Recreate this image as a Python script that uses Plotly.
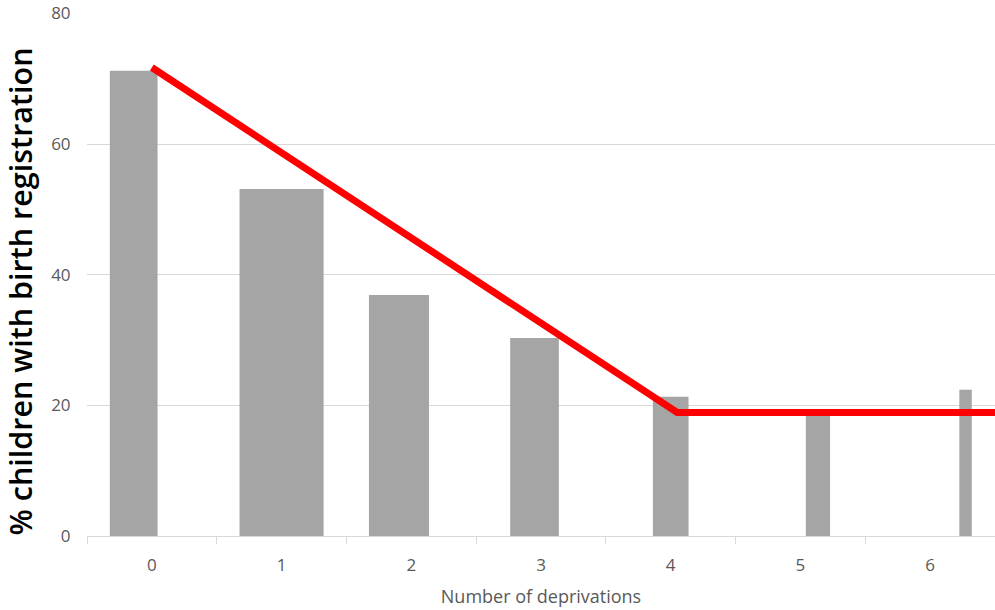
import plotly.graph_objects as go

# ---- data ----
categories = [0, 1, 2, 3, 4, 5, 6]
tick_labels = ["0", "1", "2", "3", "4", "5", "6"]
pct_registered = [71.2, 53.1, 36.9, 30.3, 21.3, 19.2, 22.4]

y_ticks = [0, 20, 40, 60, 80]

trend_x = [0.0, 4.05, 6.5]
trend_y = [71.7, 18.9, 18.9]

# ---- bar placement (style: offset within category slot and width) ----
bar_offsets = [-0.14, 0.0, -0.095, -0.05, 0.0, 0.135, 0.273]
bar_widths = [0.368, 0.648, 0.463, 0.375, 0.275, 0.187, 0.096]

bar_x = [c + o for c, o in zip(categories, bar_offsets)]

GRID = "#d9d9d9"
TXT = "#595959"

W, H = 995, 610
ML, MR, MT, MB = 87, 0, 13, 74
plot_w = W - ML - MR
plot_h = H - MT - MB

fig = go.Figure()
fig.add_trace(go.Bar(
    x=bar_x, y=pct_registered, width=bar_widths,
    marker=dict(color="#a5a5a5", line=dict(width=0)),
    showlegend=False, hoverinfo="y",
))
fig.add_trace(go.Scatter(
    x=trend_x, y=trend_y, mode="lines",
    line=dict(color="#ff0000", width=7),
    showlegend=False,
))

fig.update_layout(
    width=W, height=H,
    margin=dict(l=ML, r=MR, t=MT, b=MB, autoexpand=False),
    plot_bgcolor="white", paper_bgcolor="white",
    font=dict(family="Open Sans", color=TXT),
)
fig.update_xaxes(
    range=[-0.5, 6.5],
    tickmode="array", tickvals=categories, ticktext=tick_labels,
    ticks="outside", ticklen=14, tickcolor="rgba(0,0,0,0)",
    tickfont=dict(size=17, color=TXT),
    showgrid=False, zeroline=False,
    showline=True, linecolor=GRID, linewidth=1,
    minor=dict(tickmode="linear", tick0=-0.5, dtick=1, ticks="outside",
               ticklen=7, tickcolor=GRID, showgrid=False),
    title=dict(text="Number of deprivations", font=dict(size=18, color=TXT), standoff=14),
)
fig.update_yaxes(
    range=[0, 80.05], tickmode="array", tickvals=y_ticks,
    ticks="outside", ticklen=12, tickcolor="rgba(0,0,0,0)",
    tickfont=dict(size=17, color=TXT), ticklabeloverflow="allow",
    showgrid=True, gridcolor=GRID, gridwidth=1,
    zeroline=False, showline=False,
)
fig.add_annotation(
    text="% children with birth registration",
    xref="paper", yref="paper",
    x=(20 - ML) / plot_w, y=(MT + plot_h - 291.5) / plot_h,
    xanchor="center", yanchor="middle", textangle=-90, showarrow=False,
    font=dict(size=30.5, color="black", family="Open Sans", weight=600),
)

fig.write_html(
    "out.html",
    config={"displayModeBar": False},
    post_script="document.body.style.margin='0';document.body.style.padding='0';",
)
